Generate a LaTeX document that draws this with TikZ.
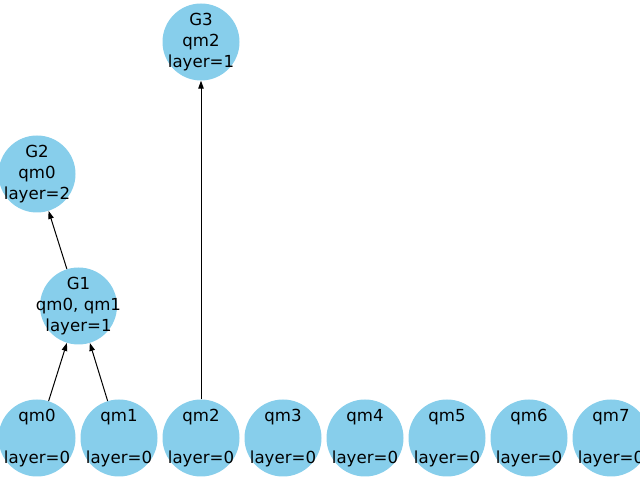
\documentclass[tikz,border=0pt]{standalone}
\usepackage{fontspec}
\setmainfont{DejaVu Sans}
\usetikzlibrary{arrows.meta}
\definecolor{skyblue}{RGB}{135,206,235}
\tikzset{
  vert/.style={circle, fill=skyblue, minimum size=77bp, inner sep=0pt,
    label={[align=center, inner sep=0pt, font=\fontsize{16.6bp}{20.8bp}\selectfont]center:#1}},
  edge/.style={-{Triangle[length=8bp,width=5.5bp]}, line width=1bp, black}
}
\begin{document}
\begin{tikzpicture}[x=1bp,y=1bp]
\clip (0,0) rectangle (640,480);
\useasboundingbox (0,0) rectangle (640,480);
\node[vert={qm0\\\mbox{}\\layer=0}] (qm0) at (37,42) {};
\node[vert={qm1\\\mbox{}\\layer=0}] (qm1) at (119,42) {};
\node[vert={qm2\\\mbox{}\\layer=0}] (qm2) at (201,42) {};
\node[vert={qm3\\\mbox{}\\layer=0}] (qm3) at (283,42) {};
\node[vert={qm4\\\mbox{}\\layer=0}] (qm4) at (365,42) {};
\node[vert={qm5\\\mbox{}\\layer=0}] (qm5) at (447,42) {};
\node[vert={qm6\\\mbox{}\\layer=0}] (qm6) at (529,42) {};
\node[vert={qm7\\\mbox{}\\layer=0}] (qm7) at (611,42) {};
\node[vert={G1\\qm0, qm1\\layer=1}] (G1) at (78.5,174) {};
\node[vert={G2\\qm0\\layer=2}] (G2) at (37,306) {};
\node[vert={G3\\qm2\\layer=1}] (G3) at (201,438) {};
\draw[edge] (qm0) -- (G1);
\draw[edge] (qm1) -- (G1);
\draw[edge] (G1) -- (G2);
\draw[edge] (qm2) -- (G3);
\end{tikzpicture}
\end{document}
